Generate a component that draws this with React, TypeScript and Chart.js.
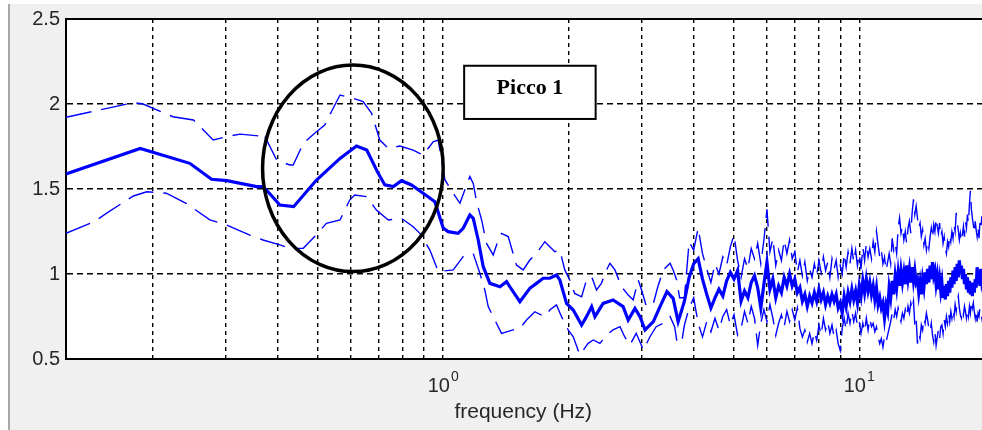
import React, { useEffect, useRef } from 'react';
import { Chart, registerables } from 'chart.js';

Chart.register(...registerables);

// ---------- data (frequency in Hz, H/V ratio) ----------
const MEDIAN_FREQ_LOW = [0.124, 0.187, 0.246, 0.2775, 0.302, 0.356, 0.369, 0.376, 0.405, 0.437, 0.496, 0.565, 0.619, 0.655, 0.698, 0.724, 0.759, 0.794, 0.839, 0.895, 0.955, 0.985, 1.0, 1.028, 1.086, 1.117, 1.159, 1.181, 1.214, 1.248, 1.295, 1.369, 1.42, 1.446, 1.529, 1.615, 1.676, 1.739, 1.804, 1.872, 1.907, 1.979, 2.054, 2.151, 2.21, 2.274, 2.316, 2.423, 2.56, 2.707, 2.784, 2.89, 2.972, 3.056, 3.2, 3.32, 3.45, 3.57, 3.67];
const MEDIAN_VAL_LOW = [1.588, 1.739, 1.651, 1.557, 1.549, 1.514, 1.514, 1.494, 1.406, 1.396, 1.553, 1.68, 1.753, 1.729, 1.592, 1.524, 1.514, 1.549, 1.524, 1.475, 1.425, 1.32, 1.27, 1.249, 1.239, 1.269, 1.347, 1.327, 1.2, 1.043, 0.945, 0.925, 0.955, 0.925, 0.837, 0.916, 0.945, 0.975, 0.975, 0.994, 0.965, 0.827, 0.788, 0.7, 0.749, 0.808, 0.749, 0.827, 0.847, 0.808, 0.729, 0.798, 0.749, 0.671, 0.72, 0.808, 0.896, 0.857, 0.72];

const UPPER_FREQ_LOW = [0.124, 0.18, 0.19, 0.224, 0.251, 0.28, 0.302, 0.325, 0.362, 0.369, 0.398, 0.428, 0.436, 0.461, 0.491, 0.519, 0.544, 0.565, 0.608, 0.642, 0.673, 0.704, 0.738, 0.787, 0.847, 0.895, 0.946, 0.973, 1.0, 1.01, 1.057, 1.097, 1.127, 1.159, 1.181, 1.203, 1.237, 1.271, 1.319, 1.356, 1.381, 1.433, 1.5, 1.557, 1.615, 1.676, 1.755, 1.804, 1.855, 1.907, 1.96, 2.014, 2.07, 2.151, 2.21, 2.274, 2.336, 2.4, 2.47, 2.516, 2.587, 2.683, 2.784, 2.862, 2.943, 2.998, 3.08, 3.2, 3.28, 3.38, 3.51, 3.57, 3.64, 3.7];
const UPPER_VAL_LOW = [1.922, 2.008, 2.0, 1.925, 1.906, 1.788, 1.808, 1.823, 1.812, 1.83, 1.67, 1.641, 1.641, 1.769, 1.828, 1.876, 1.975, 2.053, 2.033, 2.014, 1.945, 1.788, 1.739, 1.753, 1.729, 1.7, 1.778, 1.788, 1.612, 1.553, 1.475, 1.416, 1.494, 1.573, 1.533, 1.425, 1.318, 1.18, 1.112, 1.2, 1.239, 1.22, 1.053, 1.024, 1.082, 1.122, 1.19, 1.161, 1.131, 1.141, 1.024, 0.965, 0.886, 0.866, 0.965, 0.984, 0.906, 0.945, 1.024, 1.063, 1.024, 0.925, 0.876, 0.847, 0.965, 0.906, 0.808, 0.827, 0.925, 1.024, 1.063, 1.024, 0.965, 0.86];

const LOWER_FREQ_LOW = [0.124, 0.145, 0.155, 0.18, 0.194, 0.216, 0.241, 0.275, 0.302, 0.343, 0.369, 0.405, 0.428, 0.461, 0.491, 0.524, 0.565, 0.596, 0.613, 0.655, 0.691, 0.738, 0.794, 0.847, 0.879, 0.929, 0.973, 1.057, 1.117, 1.181, 1.225, 1.259, 1.283, 1.331, 1.381, 1.473, 1.529, 1.586, 1.66, 1.755, 1.804, 1.872, 1.925, 1.997, 2.054, 2.13, 2.23, 2.295, 2.38, 2.47, 2.56, 2.66, 2.73, 2.81, 2.91, 3.03, 3.14, 3.25, 3.38, 3.51, 3.6, 3.64, 3.74];
const LOWER_VAL_LOW = [1.239, 1.308, 1.357, 1.459, 1.484, 1.475, 1.416, 1.318, 1.288, 1.229, 1.2, 1.171, 1.151, 1.151, 1.22, 1.298, 1.318, 1.435, 1.465, 1.455, 1.376, 1.318, 1.327, 1.278, 1.239, 1.141, 1.014, 1.024, 1.102, 1.12, 1.004, 0.906, 0.808, 0.729, 0.651, 0.671, 0.68, 0.729, 0.778, 0.749, 0.788, 0.818, 0.749, 0.671, 0.631, 0.524, 0.592, 0.612, 0.592, 0.641, 0.671, 0.69, 0.631, 0.582, 0.651, 0.553, 0.631, 0.69, 0.71, 0.75, 0.69, 0.612, 0.592];

// dense high-frequency part, shared frequency samples (Hz)
const HF_FREQ = [
  3.8, 3.9, 4.0, 4.1, 4.2, 4.3, 4.4, 4.5, 4.6, 4.7,
  4.8, 4.9, 5.0, 5.1, 5.2, 5.3, 5.4, 5.5, 5.6, 5.7,
  5.8, 5.9, 6.0, 6.1, 6.2, 6.3, 6.4, 6.5, 6.6, 6.7,
  6.8, 6.9, 7.0, 7.1, 7.2, 7.3, 7.4, 7.5, 7.6, 7.7,
  7.8, 7.9, 8.0, 8.1, 8.2, 8.3, 8.4, 8.5, 8.6, 8.7,
  8.8, 8.9, 9.0, 9.1, 9.2, 9.3, 9.4, 9.5, 9.6, 9.7,
  9.8, 9.9, 10.0, 10.1, 10.2, 10.3, 10.4, 10.5, 10.6, 10.7,
  10.8, 10.9, 11.0, 11.1, 11.2, 11.3, 11.4, 11.5, 11.6, 11.7,
  11.8, 11.9, 12.0, 12.1, 12.2, 12.3, 12.4, 12.5, 12.6, 12.7,
  12.8, 12.9, 13.0, 13.1, 13.2, 13.3, 13.4, 13.5, 13.6, 13.7,
  13.8, 13.9, 14.0, 14.1, 14.2, 14.3, 14.4, 14.5, 14.6, 14.7,
  14.8, 14.9, 15.0, 15.1, 15.2, 15.3, 15.4, 15.5, 15.6, 15.7,
  15.8, 15.9, 16.0, 16.1, 16.2, 16.3, 16.4, 16.5, 16.6, 16.7,
  16.8, 16.9, 17.0, 17.1, 17.2, 17.3, 17.4, 17.5, 17.6, 17.7,
  17.8, 17.9, 18.0, 18.1, 18.2, 18.3, 18.4, 18.5, 18.6, 18.7,
  18.8, 18.9, 19.0, 19.1, 19.2, 19.3, 19.4, 19.5, 19.6, 19.7,
  19.8, 19.9, 20.0,
];
const MEDIAN_HF = [
  0.84, 0.98, 1.06, 1.09, 0.97, 0.88, 0.8, 0.86, 0.91, 0.87,
  0.96, 1.01, 0.97, 1.02, 0.84, 0.9, 0.86, 0.95, 0.99, 0.92,
  0.8, 0.94, 1.07, 0.91, 0.97, 0.86, 0.93, 0.89, 0.98, 0.93,
  1.0, 0.93, 0.97, 0.89, 0.92, 0.84, 0.88, 0.81, 0.87, 0.83,
  0.89, 0.84, 0.91, 0.85, 0.89, 0.82, 0.87, 0.83, 0.88, 0.84,
  0.88, 0.8, 0.83, 0.77, 0.87, 0.81, 0.89, 0.84, 0.91, 0.85,
  0.9, 0.83, 0.93, 0.87, 0.96, 0.89, 0.97, 0.9, 0.95, 0.88,
  0.93, 0.85, 0.92, 0.82, 0.86, 0.8, 0.83, 0.74, 0.82, 0.78,
  0.92, 0.86, 0.96, 0.88, 0.99, 0.92, 1.01, 0.93, 1.02, 0.95,
  1.01, 0.94, 1.05, 0.97, 1.03, 0.95, 1.04, 0.96, 1.02, 0.95,
  0.97, 0.89, 0.95, 0.88, 0.97, 0.92, 1.01, 0.94, 1.03, 0.95,
  1.05, 0.97, 1.07, 0.99, 1.02, 0.94, 0.99, 0.91, 0.97, 0.9,
  0.95, 0.86, 0.93, 0.85, 0.94, 0.87, 0.96, 0.89, 0.98, 0.92,
  1.02, 0.94, 1.04, 0.96, 1.06, 0.98, 1.08, 1.0, 1.05, 0.97,
  1.03, 0.94, 1.0, 0.91, 0.98, 0.89, 0.96, 0.88, 0.95, 0.87,
  0.95, 0.89, 0.97, 0.92, 1.04, 0.95, 1.02, 0.93, 1.03, 0.96,
  0.99, 0.91, 0.96,
];
const UPPER_HF = [
  0.86, 1.19, 1.14, 1.27, 1.12, 1.03, 0.95, 1.06, 1.0, 1.1,
  1.05, 1.16, 1.23, 1.08, 0.98, 1.09, 1.03, 1.15, 1.09, 1.18,
  1.06, 1.2, 1.38, 1.13, 1.21, 1.05, 1.14, 1.08, 1.2, 1.12,
  1.2, 1.09, 1.13, 1.01, 1.08, 0.99, 1.07, 0.96, 1.03, 0.98,
  1.06, 0.99, 1.08, 1.01, 1.1, 1.02, 1.07, 0.98, 1.09, 1.03,
  1.08, 0.98, 1.05, 1.0, 1.12, 1.04, 1.13, 1.06, 1.15, 1.07,
  1.14, 1.05, 1.12, 1.03, 1.16, 1.08, 1.18, 1.1, 1.15, 1.09,
  1.19, 1.13, 1.25, 1.17, 1.1, 1.14, 1.06, 1.1, 1.02, 1.07,
  1.12, 1.06, 1.21, 1.14, 1.18, 1.12, 1.27, 1.33, 1.24, 1.28,
  1.2, 1.25, 1.18, 1.27, 1.31, 1.24, 1.36, 1.44, 1.35, 1.4,
  1.33, 1.27, 1.3, 1.22, 1.26, 1.17, 1.21, 1.14, 1.19, 1.15,
  1.22, 1.27, 1.21, 1.29, 1.25, 1.33, 1.28, 1.24, 1.3, 1.22,
  1.25, 1.18, 1.22, 1.15, 1.12, 1.19, 1.16, 1.23, 1.19, 1.25,
  1.21, 1.29, 1.25, 1.36, 1.3, 1.26, 1.2, 1.24, 1.19, 1.23,
  1.28, 1.22, 1.31, 1.27, 1.35, 1.3, 1.41, 1.49, 1.38, 1.33,
  1.29, 1.24, 1.31, 1.26, 1.22, 1.28, 1.21, 1.3, 1.26, 1.34,
  1.28, 1.35, 1.3,
];
const LOWER_HF = [
  0.7, 0.8, 0.86, 0.71, 0.63, 0.72, 0.66, 0.74, 0.67, 0.75,
  0.79, 0.7, 0.76, 0.64, 0.68, 0.78, 0.71, 0.81, 0.74, 0.58,
  0.71, 0.79, 0.72, 0.82, 0.74, 0.64, 0.71, 0.76, 0.69, 0.78,
  0.72, 0.79, 0.73, 0.8, 0.68, 0.63, 0.67, 0.6, 0.65, 0.59,
  0.66, 0.61, 0.7, 0.64, 0.74, 0.67, 0.72, 0.65, 0.7, 0.63,
  0.67, 0.59, 0.55, 0.68, 0.74, 0.67, 0.77, 0.71, 0.78, 0.72,
  0.77, 0.69, 0.72, 0.65, 0.71, 0.66, 0.74, 0.67, 0.74, 0.69,
  0.71, 0.66, 0.69, 0.63, 0.59, 0.62, 0.57, 0.63, 0.6, 0.64,
  0.68, 0.72, 0.77, 0.73, 0.79, 0.75, 0.8, 0.76, 0.72, 0.77,
  0.74, 0.79, 0.75, 0.81, 0.77, 0.83, 0.79, 0.84, 0.7, 0.74,
  0.59, 0.65, 0.62, 0.7, 0.67, 0.74, 0.71, 0.77, 0.73, 0.68,
  0.66, 0.71, 0.64, 0.6, 0.66, 0.58, 0.63, 0.67, 0.62, 0.69,
  0.7, 0.65, 0.73, 0.69, 0.75, 0.71, 0.77, 0.72, 0.78, 0.74,
  0.79, 0.75, 0.82, 0.78, 0.84, 0.87, 0.8, 0.76, 0.74, 0.79,
  0.76, 0.81, 0.78, 0.74, 0.79, 0.75, 0.81, 0.77, 0.84, 0.8,
  0.83, 0.78, 0.74, 0.79, 0.72, 0.77, 0.75, 0.8, 0.78, 0.74,
  0.71, 0.77, 0.74,
];

// ---------- axes ----------
const X_MIN = 0.124;
const X_MAX = 20;
const Y_MIN = 0.5;
const Y_MAX = 2.5;
const Y_TICKS = [0.5, 1, 1.5, 2, 2.5];
const X_GRID = [0.2, 0.3, 0.4, 0.5, 0.6, 0.7, 0.8, 0.9, 1, 2, 3, 4, 5, 6, 7, 8, 9, 10, 20];
const X_LABEL_VALUES = [1, 10];
const X_LABEL_EXPONENTS = ['0', '1'];
const X_TITLE = 'frequency (Hz)';

// ---------- annotations (data coordinates) ----------
const ELLIPSE_F = [0.368, 1.0];
const ELLIPSE_V = [1.014, 2.229];
const BOX_F = [1.123, 2.325];
const BOX_V = [1.912, 2.225];
const BOX_TEXT = 'Picco 1';

const FONT = '"Liberation Sans", Arial, Helvetica, sans-serif';
const BLUE = '#0000ff';

const toPoints = (f: number[], v: number[]) => f.map((x, i) => ({ x, y: v[i] }));

const decorPlugin = {
  id: 'decor',
  beforeDraw(chart: any) {
    const { ctx, width, height, chartArea: a } = chart;
    ctx.save();
    ctx.fillStyle = '#ffffff';
    ctx.fillRect(0, 0, width, height);
    ctx.fillStyle = '#f0f0f0';
    ctx.fillRect(10, 4, width - 10, height - 4);
    ctx.fillStyle = '#a8a8a8';
    ctx.fillRect(8, 4, 2, height - 4);
    ctx.fillStyle = '#ffffff';
    ctx.fillRect(a.left, a.top, a.right - a.left, a.bottom - a.top);
    ctx.restore();
  },
  afterDatasetsDraw(chart: any) {
    const { ctx, chartArea: a } = chart;
    const xs = chart.scales.x;
    const ys = chart.scales.y;
    ctx.save();
    ctx.strokeStyle = '#000';
    ctx.lineWidth = 2;
    ctx.beginPath();
    ctx.moveTo(a.left, a.top);
    ctx.lineTo(a.right, a.top);
    ctx.stroke();

    const ex1 = xs.getPixelForValue(ELLIPSE_F[0]);
    const ex2 = xs.getPixelForValue(ELLIPSE_F[1]);
    const ey1 = ys.getPixelForValue(ELLIPSE_V[1]);
    const ey2 = ys.getPixelForValue(ELLIPSE_V[0]);
    ctx.lineWidth = 3.5;
    ctx.strokeStyle = '#000';
    ctx.beginPath();
    ctx.ellipse((ex1 + ex2) / 2, (ey1 + ey2) / 2, (ex2 - ex1) / 2, (ey2 - ey1) / 2, 0, 0, Math.PI * 2);
    ctx.stroke();

    const bx1 = xs.getPixelForValue(BOX_F[0]);
    const bx2 = xs.getPixelForValue(BOX_F[1]);
    const by1 = ys.getPixelForValue(BOX_V[1]);
    const by2 = ys.getPixelForValue(BOX_V[0]);
    ctx.fillStyle = '#fff';
    ctx.fillRect(bx1, by1, bx2 - bx1, by2 - by1);
    ctx.lineWidth = 2;
    ctx.strokeRect(bx1, by1, bx2 - bx1, by2 - by1);
    ctx.fillStyle = '#000';
    ctx.font = 'bold 22px "Liberation Serif", "DejaVu Serif", serif';
    ctx.textAlign = 'center';
    ctx.textBaseline = 'alphabetic';
    ctx.fillText(BOX_TEXT, (bx1 + bx2) / 2, by1 + 28);
    ctx.restore();
  },
  afterDraw(chart: any) {
    const { ctx, chartArea: a } = chart;
    const xs = chart.scales.x;
    ctx.save();
    ctx.fillStyle = '#262626';
    ctx.textBaseline = 'alphabetic';
    ctx.textAlign = 'left';
    X_LABEL_VALUES.forEach((v, i) => {
      const px = xs.getPixelForValue(v);
      ctx.font = `20px ${FONT}`;
      const bw = ctx.measureText('10').width;
      ctx.font = `14px ${FONT}`;
      const ew = ctx.measureText(X_LABEL_EXPONENTS[i]).width;
      const x0 = px - (bw + 1 + ew) / 2;
      ctx.font = `20px ${FONT}`;
      ctx.fillText('10', x0, a.bottom + 33);
      ctx.font = `14px ${FONT}`;
      ctx.fillText(X_LABEL_EXPONENTS[i], x0 + bw + 1, a.bottom + 22);
    });
    ctx.font = `21px ${FONT}`;
    ctx.textAlign = 'center';
    ctx.fillText(X_TITLE, (a.left + a.right) / 2 - 2, a.bottom + 59);
    ctx.restore();
  },
};

export default function App() {
  const ref = useRef<HTMLCanvasElement | null>(null);

  useEffect(() => {
    if (!ref.current) return;
    const chart = new Chart(ref.current, {
      type: 'line',
      data: {
        datasets: [
          {
            label: 'upper',
            data: toPoints([...UPPER_FREQ_LOW, ...HF_FREQ], [...UPPER_VAL_LOW, ...UPPER_HF]),
            borderColor: BLUE,
            borderWidth: 1.4,
            borderDash: [26, 10],
            pointRadius: 0,
            tension: 0,
            fill: false,
          },
          {
            label: 'lower',
            data: toPoints([...LOWER_FREQ_LOW, ...HF_FREQ], [...LOWER_VAL_LOW, ...LOWER_HF]),
            borderColor: BLUE,
            borderWidth: 1.4,
            borderDash: [26, 10],
            pointRadius: 0,
            tension: 0,
            fill: false,
          },
          {
            label: 'median',
            data: toPoints([...MEDIAN_FREQ_LOW, ...HF_FREQ], [...MEDIAN_VAL_LOW, ...MEDIAN_HF]),
            borderColor: BLUE,
            borderWidth: 3.2,
            pointRadius: 0,
            tension: 0,
            fill: false,
          },
        ],
      },
      options: {
        animation: false,
        responsive: false,
        maintainAspectRatio: false,
        devicePixelRatio: 1,
        layout: { padding: { top: 19, right: 15.5, left: 0, bottom: 0 } },
        plugins: { legend: { display: false }, tooltip: { enabled: false } },
        events: [],
        scales: {
          x: {
            type: 'logarithmic',
            min: X_MIN,
            max: X_MAX,
            afterBuildTicks: (s: any) => {
              s.ticks = X_GRID.map((v) => ({ value: v }));
            },
            afterFit: (s: any) => {
              s.height = 71;
            },
            ticks: { display: false },
            grid: { color: '#000', lineWidth: 1.4, drawTicks: false },
            border: { display: true, color: '#000', width: 2, dash: [4, 4] },
          },
          y: {
            type: 'linear',
            min: Y_MIN,
            max: Y_MAX,
            afterBuildTicks: (s: any) => {
              s.ticks = Y_TICKS.map((v) => ({ value: v }));
            },
            afterFit: (s: any) => {
              s.width = 66;
            },
            ticks: {
              padding: 6,
              color: '#262626',
              font: { family: FONT, size: 20 },
              callback: (v: any) => String(v),
            },
            grid: { color: '#000', lineWidth: 1.4, drawTicks: false },
            border: { display: true, color: '#000', width: 2, dash: [6, 4] },
          },
        },
      },
      plugins: [decorPlugin],
    } as any);
    return () => chart.destroy();
  }, []);

  return (
    <div style={{ position: 'fixed', left: 0, top: 0, width: 982, height: 430, overflow: 'hidden', background: '#fff' }}>
      <canvas ref={ref} width={1000} height={430} style={{ display: 'block' }} />
    </div>
  );
}
